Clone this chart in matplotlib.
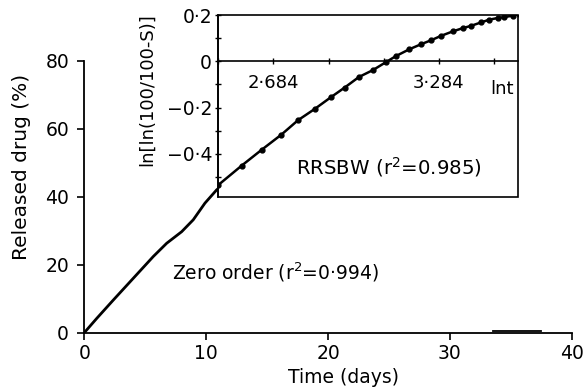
import matplotlib
matplotlib.use("Agg")
import matplotlib.pyplot as plt
from matplotlib.patches import Rectangle
import numpy as np

plt.rcParams['font.family'] = ['DejaVu Sans']
plt.rcParams['mathtext.fontset'] = 'dejavusans'

# Main plot: zero-order release (days, %)
time_days = [0, 1.02, 2.38, 4.02, 5.66, 6.76, 7.99, 8.94, 9.90, 10.86, 11.2]
released = [0, 4.2, 9.6, 16.0, 22.4, 26.3, 29.7, 33.2, 38.1, 42.0, 43.0]

# small trace near the x axis at the end of the experiment
tail_days = [33.5, 37.5]
tail_vals = [0.5, 0.5]

# Inset: RRSBW linearisation
ln_t = [2.484, 2.569, 2.641, 2.713, 2.773, 2.834, 2.894, 2.942, 2.994, 3.045,
        3.093, 3.129, 3.177, 3.220, 3.256, 3.292, 3.334, 3.370, 3.400, 3.437,
        3.467, 3.497, 3.521, 3.551, 3.575]
lnln = [-0.535, -0.451, -0.383, -0.317, -0.255, -0.206, -0.154, -0.114, -0.068, -0.038,
        -0.003, 0.023, 0.052, 0.074, 0.091, 0.110, 0.129, 0.143, 0.153, 0.168,
        0.180, 0.187, 0.191, 0.197, 0.204]

main_xticks = [0, 10, 20, 30, 40]
main_yticks = [0, 20, 40, 60, 80]
inset_xticks = [2.484, 2.684, 2.884, 3.084, 3.284, 3.484]
inset_xlabels = ['', '2·684', '', '', '3·284', '']
inset_yticks = [-0.5, -0.4, -0.3, -0.2, -0.1, 0, 0.1, 0.2]
inset_ylabels = ['', '\u22120·4', '', '\u22120·2', '', '0', '', '0·2']

fig = plt.figure(figsize=(5.87, 3.92), dpi=100)
ax = fig.add_axes([0.1436, 0.1513, 0.8304, 0.6939])
ax.plot(time_days, released, color='black', lw=2.0, solid_capstyle='round')
ax.plot(tail_days, tail_vals, color='black', lw=1.3)
ax.set_xlim(0, 40)
ax.set_ylim(0, 80)
ax.set_xticks(main_xticks)
ax.set_yticks(main_yticks)
ax.tick_params(labelsize=13.5, width=1.2, length=5, direction='out')
ax.tick_params(axis='x', pad=3)
ax.tick_params(axis='y', pad=6)
for s in ['top', 'right']:
    ax.spines[s].set_visible(False)
for s in ['left', 'bottom']:
    ax.spines[s].set_linewidth(1.3)
ax.text(7.17, 17.9, 'Zero order (r$^2$=0·994)', fontsize=13.5, va='center', ha='left')
fig.text(0.586, 0.036, 'Time (days)', fontsize=13.5, ha='center', va='center')
fig.text(0.036, 0.574, 'Released drug (%)', fontsize=14.5, ha='center', va='center', rotation=90)

# Inset
ins = fig.add_axes([0.3719, 0.4974, 0.5106, 0.4643])
ins.set_facecolor('white')
ins.plot(ln_t, lnln, color='black', lw=1.8, marker='o', ms=3.5)
ins.set_xlim(2.484, 3.571)
ins.set_ylim(-0.587, 0.2)
ins.spines['bottom'].set_position(('data', 0))
for s in ins.spines.values():
    s.set_linewidth(1.2)
ins.spines['right'].set_visible(False)
ins.spines['top'].set_visible(False)
ins.add_patch(Rectangle((0, 0), 1, 1, transform=ins.transAxes, fill=False,
                        lw=1.2, ec='black', clip_on=False, zorder=5))
ins.set_xticks(inset_xticks)
ins.set_xticklabels(inset_xlabels)
ins.set_yticks(inset_yticks)
ins.set_yticklabels(inset_ylabels)
ins.tick_params(axis='x', direction='inout', length=5, width=1.0, labelsize=13, pad=7)
ins.tick_params(axis='y', direction='inout', length=5, width=1.0, labelsize=13.5, pad=2)
ins.text(3.513, -0.122, 'lnt', fontsize=13, ha='center', va='center')
ins.text(2.765, -0.457, 'RRSBW (r$^2$=0.985)', fontsize=14.2, ha='left', va='center')
ins.set_ylabel('ln[ln(100/100-S)]', fontsize=13)
ins.yaxis.set_label_coords(-0.208, 0.588)

fig.savefig('out.png', dpi=100)
